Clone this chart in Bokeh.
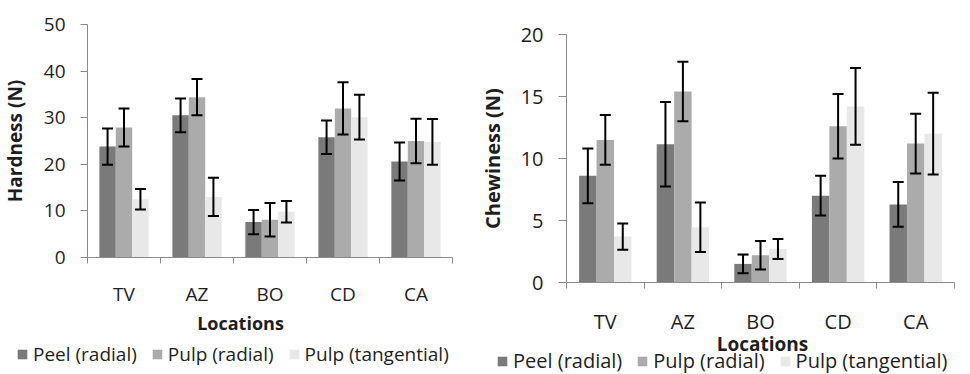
from bokeh.plotting import figure
from bokeh.models import (Range1d, FixedTicker, Whisker, TeeHead, ColumnDataSource,
                          Legend, LegendItem, Label)
from bokeh.layouts import row
from bokeh.embed import file_html
from bokeh.resources import INLINE

# ---------------- data ----------------
locations = ["TV", "AZ", "BO", "CD", "CA"]
series_names = ["Peel (radial)", "Pulp (radial)", "Pulp (tangential)"]
x_title = "Locations"

hard_peel = [23.8, 30.5, 7.6, 25.8, 20.6]
hard_peel_err = [3.9, 3.6, 2.6, 3.6, 4.1]
hard_pulp_rad = [27.9, 34.4, 8.1, 32.0, 25.0]
hard_pulp_rad_err = [4.1, 3.9, 3.6, 5.6, 4.8]
hard_pulp_tan = [12.5, 13.0, 9.8, 30.1, 24.8]
hard_pulp_tan_err = [2.2, 4.1, 2.3, 4.8, 4.9]

chew_peel = [8.6, 11.15, 1.5, 7.0, 6.3]
chew_peel_err = [2.2, 3.4, 0.75, 1.6, 1.8]
chew_pulp_rad = [11.5, 15.4, 2.2, 12.6, 11.2]
chew_pulp_rad_err = [2.0, 2.4, 1.15, 2.6, 2.4]
chew_pulp_tan = [3.7, 4.45, 2.7, 14.2, 12.0]
chew_pulp_tan_err = [1.05, 2.0, 0.8, 3.1, 3.3]

hard_ticks = [0, 10, 20, 30, 40, 50]
chew_ticks = [0, 5, 10, 15, 20]

# ---------------- style ----------------
COLORS = ["#7a7a7a", "#ababab", "#e8e8e8"]
FONT = "Open Sans"
TEXT = "#1e1e1e"
AXIS = "#8a8a8a"
BAR_W = 0.225


def make_chart(vals, errs, ticks, ylabel, geom, fs, ytitle_standoff, ytick_out,
               ytick_standoff, xlab_standoff, title_px, legend_px):
    # geom: figure width/height and the pixel box of the data area inside the figure
    W, H, px_left, px_right, px_top, px_bottom = geom
    n_cat = len(locations)
    ux = (px_right - px_left) / n_cat
    uy = (px_bottom - px_top) / (ticks[-1] - ticks[0])
    x_range = Range1d(-px_left / ux, n_cat + (W - px_right) / ux)
    y_range = Range1d(ticks[0] - (H - px_bottom) / uy, ticks[-1] + px_top / uy)

    p = figure(width=W, height=H, output_backend="svg", toolbar_location=None,
               x_range=x_range, y_range=y_range,
               min_border_left=0, min_border_right=0, min_border_top=0, min_border_bottom=0)
    p.outline_line_color = None
    p.xgrid.visible = False
    p.ygrid.visible = False
    p.background_fill_color = "white"
    p.border_fill_color = "white"

    renderers = []
    n = len(vals)
    for k, (v, e) in enumerate(zip(vals, errs)):
        xs = [i + 0.5 + (k - (n - 1) / 2) * BAR_W for i in range(n_cat)]
        src = ColumnDataSource(dict(x=xs, top=v,
                                    upper=[a + b for a, b in zip(v, e)],
                                    lower=[a - b for a, b in zip(v, e)]))
        r = p.vbar(x="x", top="top", bottom=0, width=BAR_W, source=src,
                   fill_color=COLORS[k], line_color=None)
        renderers.append(r)
        w = Whisker(base="x", upper="upper", lower="lower", source=src,
                    line_color="black", line_width=2, level="overlay",
                    upper_head=TeeHead(size=11, line_color="black", line_width=2),
                    lower_head=TeeHead(size=11, line_color="black", line_width=2))
        p.add_layout(w)

    # x axis: category labels at centres, tick marks at category boundaries
    centres = [i + 0.5 for i in range(n_cat)]
    p.xaxis.fixed_location = ticks[0]
    p.xaxis.bounds = (0, n_cat)
    p.xaxis.ticker = FixedTicker(ticks=centres, minor_ticks=list(range(n_cat + 1)))
    p.xaxis.major_label_overrides = {c: name for c, name in zip(centres, locations)}
    p.xaxis.major_tick_line_color = None
    p.xaxis.major_tick_out = 0
    p.xaxis.major_tick_in = 0
    p.xaxis.minor_tick_line_color = AXIS
    p.xaxis.minor_tick_out = 6
    p.xaxis.minor_tick_in = 0
    p.xaxis.axis_line_color = AXIS
    p.xaxis.major_label_standoff = xlab_standoff

    p.yaxis.fixed_location = 0
    p.yaxis.bounds = (ticks[0], ticks[-1])
    p.yaxis.ticker = FixedTicker(ticks=ticks)
    p.yaxis.axis_line_color = AXIS
    p.yaxis.major_tick_line_color = AXIS
    p.yaxis.major_tick_out = ytick_out
    p.yaxis.major_tick_in = 0
    p.yaxis.minor_tick_line_color = None
    p.yaxis.major_label_standoff = ytick_standoff
    p.yaxis.axis_label = ylabel
    p.yaxis.axis_label_standoff = ytitle_standoff

    for ax in (p.xaxis, p.yaxis):
        ax.major_label_text_font = FONT
        ax.major_label_text_font_size = f"{fs}px"
        ax.major_label_text_color = TEXT
        ax.axis_label_text_font = FONT
        ax.axis_label_text_font_size = f"{fs}px"
        ax.axis_label_text_font_style = "bold"
        ax.axis_label_text_color = TEXT

    # x-axis title, centred where the reference puts it
    tx, ty = title_px
    p.add_layout(Label(x=(tx - px_left) / ux, y=ticks[0] - (ty - px_bottom) / uy,
                       text=x_title, text_align="center", text_baseline="middle",
                       text_font=FONT, text_font_size=f"{fs - 1}px", text_font_style="bold",
                       text_color=TEXT))

    legend = Legend(items=[LegendItem(label=s, renderers=[r]) for s, r in zip(series_names, renderers)],
                    location=legend_px, orientation="horizontal",
                    glyph_width=12, glyph_height=12, label_standoff=5, spacing=14,
                    padding=0, margin=0, border_line_color=None, background_fill_alpha=0,
                    label_text_font=FONT, label_text_font_size=f"{fs}px",
                    label_text_color=TEXT)
    p.add_layout(legend)
    return p


# left figure covers x 0..480, right figure x 480..970, both y 0..374
left = make_chart([hard_peel, hard_pulp_rad, hard_pulp_tan],
                  [hard_peel_err, hard_pulp_rad_err, hard_pulp_tan_err],
                  hard_ticks, "Hardness (N)", (480, 374, 87, 452, 24, 257), 19,
                  13, 7, 15, 17, (240, 322), (16, 7))

right = make_chart([chew_peel, chew_pulp_rad, chew_pulp_tan],
                   [chew_peel_err, chew_pulp_rad_err, chew_pulp_tan_err],
                   chew_ticks, "Chewiness (N)", (490, 374, 86, 474, 34, 282), 20,
                   12, 8, 15, 19, (282, 343), (16, 0))

layout = row(left, right)
open("out.html", "w").write(file_html(layout, INLINE))
